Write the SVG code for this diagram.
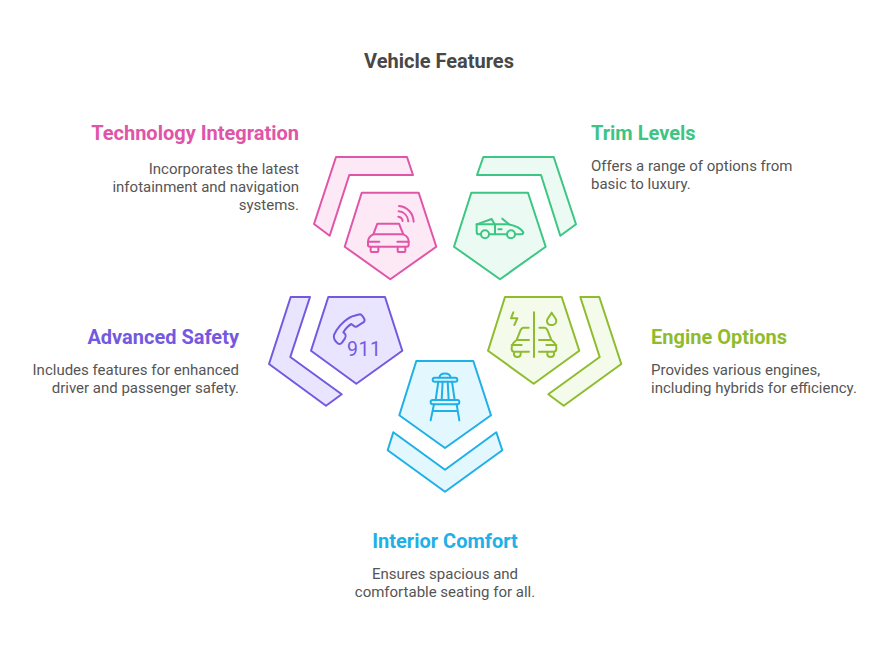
<svg xmlns="http://www.w3.org/2000/svg" width="890" height="651" viewBox="0 0 890 651">
<style>
text{font-family:Roboto,"Liberation Sans",sans-serif}
.title{font-size:20px;font-weight:700;fill:#484848}
.head{font-size:20px;font-weight:700}
.body{font-size:15px;fill:#555}
.end{text-anchor:end}
.shape{stroke-width:2;stroke-linejoin:round}
.icon{fill:none;stroke-width:6;stroke-linecap:round;stroke-linejoin:round}
.pink{stroke:#e055a8;fill:#fde8f6}
.green{stroke:#3cc583;fill:#ebfbf4}
.purple{stroke:#7459e0;fill:#e9e5fe}
.olive{stroke:#8fbc2e;fill:#f4fbea}
.blue{stroke:#1eb0e6;fill:#e3f7ff}
</style>
<rect width="890" height="651" fill="#fff"/>
<text class="title" x="439" y="68" text-anchor="middle">Vehicle Features</text>

<g id="technology-integration">
<polygon class="shape pink" points="336,157 407,157 413,175 349.3,175 329.7,235.7 314,224"/>
<polygon class="shape pink" points="361.7,192.7 418.7,192.7 436.3,246.7 390.3,279.3 344.7,246.7"/>
<g class="icon" stroke="#e055a8" transform="translate(300 145) scale(.3333)">
<path d="M204 290C204 278 212 272 220 268L232 236H297L310 268C320 272 326 280 326 290V300Q326 305 320 305H210Q204 305 204 300Z"/>
<path d="M220 268H310M204 290H238M326 290H292"/>
<path d="M212 305V318Q212 321 215 321H232Q235 321 235 318V305M293 305V318Q293 321 296 321H313Q316 321 316 318V305"/>
<path d="M297 183C322 185 340 205 341 230M296 199C312 200 323 212 325 229M295 215C302 216 307 221 308 228"/>
</g>
<text class="head end" x="299" y="140" fill="#e055a8">Technology Integration</text>
<text class="body end" x="299" y="174">Incorporates the latest</text>
<text class="body end" x="299" y="192">infotainment and navigation</text>
<text class="body end" x="299" y="210">systems.</text>
</g>

<g id="trim-levels">
<polygon class="shape green" points="483.3,157 553.7,157 576,224.3 560.3,235.7 541,175 477,175"/>
<polygon class="shape green" points="471.3,192.7 528,192.7 545.7,246.7 500,279.3 454,246.7"/>
<g class="icon" stroke="#3cc583" transform="translate(445 145) scale(.3333)">
<circle cx="120" cy="268" r="12"/><circle cx="198" cy="268" r="12"/>
<path d="M107 268H101Q95 268 95 260V238H190Q225 245 235 262Q235 268 228 268H211M186 268H133"/>
<path d="M95 238L140 222L150 240V268M172 221L192 238M160 253H170"/>
</g>
<text class="head" x="591" y="140" fill="#3cc583">Trim Levels</text>
<text class="body" x="591" y="171">Offers a range of options from</text>
<text class="body" x="591" y="189">basic to luxury.</text>
</g>

<g id="advanced-safety">
<polygon class="shape purple" points="290.7,297 310,297 290.3,357 341.7,394.3 326,405.7 269,364"/>
<polygon class="shape purple" points="328.3,297 385,297 402.3,350.7 356.3,383.7 311,350.7"/>
<g class="icon" stroke="#7459e0" transform="translate(260 285) scale(.3333)">
<path d="M222 150L230 135C240 120 265 95 283 92L300 88C305 88 312 98 314 105C314 110 310 113 305 115L290 125C285 127 282 125 278 120L274 117C268 120 255 132 250 142L256 148C258 152 258 155 255 160L246 173C242 178 238 178 233 175C227 170 220 160 222 150Z"/>
</g>
<text x="347" y="355.5" font-size="19.5" letter-spacing=".6" fill="#7459e0">911</text>
<text class="head end" x="239" y="344" fill="#7459e0">Advanced Safety</text>
<text class="body end" x="239" y="375">Includes features for enhanced</text>
<text class="body end" x="239" y="393">driver and passenger safety.</text>
</g>

<g id="engine-options">
<polygon class="shape olive" points="580.3,297 599.3,297 621.3,364 563.7,405.7 548.3,394.3 599.7,357"/>
<polygon class="shape olive" points="505,297 561.7,297 579.3,350.7 533.7,383.7 488,350.7"/>
<g class="icon" stroke="#8fbc2e" transform="translate(480 285) scale(.3333)">
<path d="M162 82V216M100 82L93 100H112L103 120"/>
<path d="M215 83C208 95 201 102 201 107C201 115 207 120 215 120C223 120 229 114 229 107C229 101 222 95 215 83Z"/>
<path d="M146 128H130Q125 128 122 135L110 165C100 172 95 178 95 188V192Q95 200 103 200H147M110 165H147M95 180H125M102 200V208Q102 216 112 216Q122 216 122 208V200"/>
<path d="M178 128H194Q199 128 202 135L214 165C224 172 229 178 229 188V192Q229 200 221 200H177M214 165H177M229 180H199M222 200V208Q222 216 212 216Q202 216 202 208V200"/>
</g>
<text class="head" x="651" y="344" fill="#8fbc2e">Engine Options</text>
<text class="body" x="651" y="375">Provides various engines,</text>
<text class="body" x="651" y="393">including hybrids for efficiency.</text>
</g>

<g id="interior-comfort">
<polygon class="shape blue" points="393.3,432.3 445,469.7 496.3,432.3 502.3,450.3 445,491.7 387.7,450.3"/>
<polygon class="shape blue" points="416.3,361 473.3,361 491,415.3 445,448 399.3,415.3"/>
<g class="icon" stroke="#1eb0e6" transform="translate(380 355) scale(.3333)">
<rect x="158" y="68" width="74" height="12" rx="6"/>
<path d="M178 68C180 51 210 51 212 68"/>
<path d="M175 80L167 135M188 80L185 135M203 80L206 135M216 80L224 135"/>
<rect x="152" y="135" width="86" height="13" rx="6"/>
<path d="M162 148L152 196M230 148L238 196M160 168H232"/>
</g>
<text class="head" x="445" y="548" text-anchor="middle" fill="#1eb0e6">Interior Comfort</text>
<text class="body" x="445" y="579" text-anchor="middle">Ensures spacious and</text>
<text class="body" x="445" y="597" text-anchor="middle">comfortable seating for all.</text>
</g>
</svg>
